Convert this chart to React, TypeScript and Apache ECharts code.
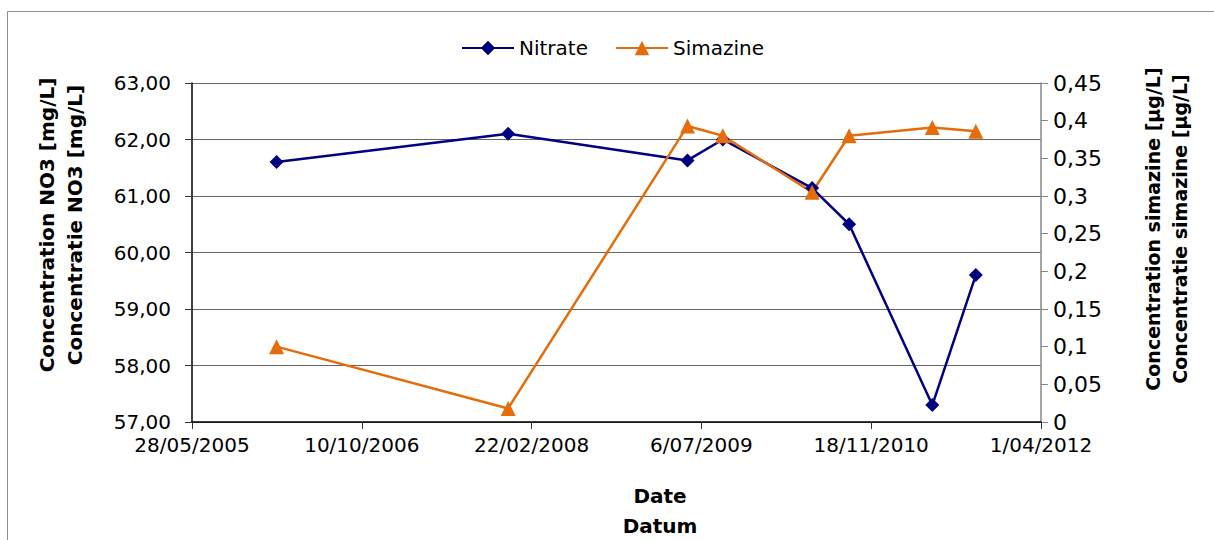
import React, { useEffect, useRef } from "react";
import * as echarts from "echarts";

// Sampling dates and measured concentrations
const sampleDates = [
  "2006-02-01",
  "2007-12-15",
  "2009-05-26",
  "2009-09-07",
  "2010-05-28",
  "2010-09-14",
  "2011-05-17",
  "2011-09-22",
];
const nitrate = [61.6, 62.1, 61.63, 62.0, 61.14, 60.5, 57.3, 59.6];
const simazine = [0.1, 0.018, 0.393, 0.38, 0.305, 0.38, 0.391, 0.386];

const seriesNames = ["Nitrate", "Simazine"];
const leftTitle = ["Concentration NO3 [mg/L]", "Concentratie NO3 [mg/L]"];
const rightTitle = ["Concentration simazine [µg/L]", "Concentratie simazine [µg/L]"];
const xTitle = ["Date", "Datum"];

// x axis: days since 28/05/2005, ticks every 500 days up to 1/04/2012
const axisStart = "2005-05-28";
const xMin = 0;
const xMax = 2500;
const xInterval = 500;

const BASE = Date.parse(axisStart + "T00:00:00Z");
const DAY = 86400000;
const toDays = (s: string) => Math.round((Date.parse(s + "T00:00:00Z") - BASE) / DAY);
const fmtDate = (v: number) => {
  const d = new Date(BASE + v * DAY);
  return `${d.getUTCDate()}/${String(d.getUTCMonth() + 1).padStart(2, "0")}/${d.getUTCFullYear()}`;
};

const FONT = "DejaVu Sans";
const NAVY = "#000080";
const ORANGE = "#E46C0A";

export default function App() {
  const ref = useRef<HTMLDivElement>(null);
  useEffect(() => {
    if (!ref.current) return;
    const chart = echarts.init(ref.current, null, { renderer: "svg" });
    const xs = sampleDates.map(toDays);
    const option: any = {
      animation: false,
      backgroundColor: "#fff",
      legend: {
        data: seriesNames,
        left: 461,
        top: 38,
        padding: 0,
        itemWidth: 52,
        itemHeight: 18,
        itemGap: 27,
        textStyle: { fontFamily: FONT, fontSize: 20, color: "#000" },
      },
      grid: { left: 192, right: 173, top: 83, bottom: 118, containLabel: false },
      xAxis: {
        type: "value",
        min: xMin,
        max: xMax,
        interval: xInterval,
        axisLine: { show: true, lineStyle: { color: "#000", width: 1.5 } },
        axisTick: { show: true, length: 7, lineStyle: { color: "#333" } },
        splitLine: { show: false },
        axisLabel: {
          formatter: (v: number) => fmtDate(v),
          fontFamily: FONT,
          fontSize: 20,
          color: "#000",
          margin: 13,
        },
      },
      yAxis: [
        {
          type: "value",
          min: 57,
          max: 63,
          interval: 1,
          axisLine: { show: true, lineStyle: { color: "#000", width: 1.5 } },
          axisTick: { show: true, length: 7, lineStyle: { color: "#333" } },
          splitLine: { show: true, lineStyle: { color: "#666", width: 1 } },
          axisLabel: {
            formatter: (v: number) => v.toFixed(2).replace(".", ","),
            fontFamily: FONT,
            fontSize: 20,
            color: "#000",
            margin: 21,
          },
        },
        {
          type: "value",
          position: "right",
          min: 0,
          max: 0.45,
          interval: 0.05,
          axisLine: { show: true, lineStyle: { color: "#888", width: 1.5 } },
          axisTick: { show: true, length: 7, lineStyle: { color: "#888" } },
          splitLine: { show: false },
          axisLabel: {
            formatter: (v: number) => String(parseFloat(v.toFixed(2))).replace(".", ","),
            fontFamily: FONT,
            fontSize: 22,
            color: "#000",
            margin: 12,
          },
        },
      ],
      series: [
        {
          name: seriesNames[0],
          type: "line",
          yAxisIndex: 0,
          data: xs.map((x, i) => [x, nitrate[i]]),
          symbol: "diamond",
          symbolSize: 14,
          lineStyle: { color: NAVY, width: 2.5 },
          itemStyle: { color: NAVY },
        },
        {
          name: seriesNames[1],
          type: "line",
          yAxisIndex: 1,
          data: xs.map((x, i) => [x, simazine[i]]),
          symbol: "triangle",
          symbolSize: 15,
          lineStyle: { color: ORANGE, width: 2.5 },
          itemStyle: { color: ORANGE },
        },
      ],
      graphic: [
        {
          type: "rect",
          shape: { x: 7.5, y: 11.5, width: 1300, height: 700 },
          style: { fill: "none", stroke: "#8c8c8c", lineWidth: 1 },
          silent: true,
          z: -1,
        },
        {
          type: "text",
          x: 61,
          y: 225,
          rotation: Math.PI / 2,
          style: {
            text: leftTitle.join("\n"),
            font: `bold 20px "${FONT}"`,
            fill: "#000",
            align: "center",
            verticalAlign: "middle",
            lineHeight: 28,
          },
        },
        {
          type: "text",
          x: 1166,
          y: 229,
          rotation: Math.PI / 2,
          style: {
            text: rightTitle.join("\n"),
            font: `bold 19px "${FONT}"`,
            fill: "#000",
            align: "center",
            verticalAlign: "middle",
            lineHeight: 27,
          },
        },
        {
          type: "text",
          x: 660,
          y: 511,
          style: {
            text: xTitle.join("\n"),
            font: `bold 20px "${FONT}"`,
            fill: "#000",
            align: "center",
            verticalAlign: "middle",
            lineHeight: 30,
          },
        },
      ],
    };
    chart.setOption(option);
    return () => chart.dispose();
  }, []);
  return (
    <div
      ref={ref}
      style={{ position: "fixed", left: 0, top: 0, width: 1214, height: 540, background: "#fff" }}
    />
  );
}
